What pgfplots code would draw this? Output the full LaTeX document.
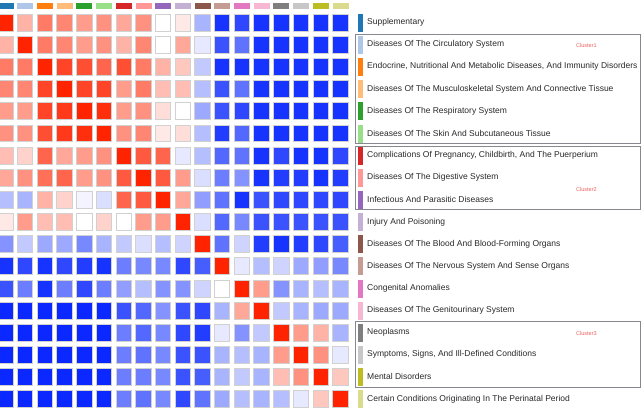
\documentclass[border=0pt]{standalone}
\usepackage{pgfplots}
\pgfplotsset{compat=1.18}
\usepackage{fontspec}
\setmainfont{Liberation Sans}

\definecolor{labeltext}{RGB}{40,40,40}
\definecolor{boxline}{RGB}{135,135,145}
\definecolor{clusterred}{RGB}{240,95,95}

% category colours, one per disease group
\definecolor{c0}{RGB}{31,119,180}
\definecolor{c1}{RGB}{174,199,232}
\definecolor{c2}{RGB}{255,127,14}
\definecolor{c3}{RGB}{255,187,120}
\definecolor{c4}{RGB}{44,160,44}
\definecolor{c5}{RGB}{152,223,138}
\definecolor{c6}{RGB}{214,39,40}
\definecolor{c7}{RGB}{255,152,150}
\definecolor{c8}{RGB}{148,103,189}
\definecolor{c9}{RGB}{197,176,213}
\definecolor{c10}{RGB}{140,86,75}
\definecolor{c11}{RGB}{196,156,148}
\definecolor{c12}{RGB}{227,119,194}
\definecolor{c13}{RGB}{247,182,210}
\definecolor{c14}{RGB}{127,127,127}
\definecolor{c15}{RGB}{199,199,199}
\definecolor{c16}{RGB}{188,189,34}
\definecolor{c17}{RGB}{219,219,141}

\tikzset{
  lbl/.style={anchor=west, inner sep=0pt, text=labeltext, font=\fontsize{8.5}{10}\selectfont},
  clu/.style={text=clusterred, font=\fontsize{5.5}{6}\selectfont},
}

\pgfplotsset{
  colormap={corr}{rgb255=(10,40,255) rgb255=(255,255,255) rgb255=(255,35,0)},
  groupclasses/.style={
    scatter, only marks, mark=square*, scatter src=explicit symbolic,
    scatter/classes={
      k0={draw=c0,fill=c0}, k1={draw=c1,fill=c1}, k2={draw=c2,fill=c2},
      k3={draw=c3,fill=c3}, k4={draw=c4,fill=c4}, k5={draw=c5,fill=c5},
      k6={draw=c6,fill=c6}, k7={draw=c7,fill=c7}, k8={draw=c8,fill=c8},
      k9={draw=c9,fill=c9}, k10={draw=c10,fill=c10}, k11={draw=c11,fill=c11},
      k12={draw=c12,fill=c12}, k13={draw=c13,fill=c13}, k14={draw=c14,fill=c14},
      k15={draw=c15,fill=c15}, k16={draw=c16,fill=c16}, k17={draw=c17,fill=c17}}},
}

\begin{document}
\begin{tikzpicture}
\begin{axis}[
  scale only axis, width=642pt, height=407pt,
  xmin=-0.269, xmax=32.32, ymin=-1.016, ymax=17.36, y dir=reverse,
  hide axis, clip marker paths=true,
]
% correlation cells: column, row, value
\addplot[scatter, only marks, mark=square*, mark size=7.7pt,
  point meta=explicit, point meta min=-1, point meta max=1,
  scatter/use mapped color={draw=black!18, fill=mapped color},
  mark options={yscale=1.1, line width=0.5pt}]
  table[row sep=\\, x=c, y=r, meta=v] {
c r v\\
0 0 1.00\\ 1 0 0.35\\ 2 0 0.60\\ 3 0 0.55\\ 4 0 0.45\\ 5 0 0.50\\ 6 0 0.40\\ 7 0 0.50\\ 8 0 0.00\\ 9 0 0.10\\ 10 0 -0.35\\ 11 0 -0.95\\ 12 0 -0.85\\ 13 0 -0.95\\ 14 0 -0.95\\ 15 0 -0.95\\ 16 0 -0.95\\ 17 0 -0.95\\
0 1 0.35\\ 1 1 1.00\\ 2 1 0.60\\ 3 1 0.55\\ 4 1 0.45\\ 5 1 0.50\\ 6 1 0.35\\ 7 1 0.55\\ 8 1 0.00\\ 9 1 0.40\\ 10 1 -0.10\\ 11 1 -0.80\\ 12 1 -0.65\\ 13 1 -0.95\\ 14 1 -0.95\\ 15 1 -0.95\\ 16 1 -0.95\\ 17 1 -0.95\\
0 2 0.60\\ 1 2 0.60\\ 2 2 1.00\\ 3 2 0.85\\ 4 2 0.80\\ 5 2 0.70\\ 6 2 0.80\\ 7 2 0.60\\ 8 2 0.35\\ 9 2 0.25\\ 10 2 -0.25\\ 11 2 -0.95\\ 12 2 -0.95\\ 13 2 -0.95\\ 14 2 -0.95\\ 15 2 -0.95\\ 16 2 -0.95\\ 17 2 -0.95\\
0 3 0.55\\ 1 3 0.55\\ 2 3 0.85\\ 3 3 1.00\\ 4 3 0.85\\ 5 3 0.85\\ 6 3 0.45\\ 7 3 0.60\\ 8 3 0.30\\ 9 3 0.30\\ 10 3 -0.30\\ 11 3 -0.80\\ 12 3 -0.65\\ 13 3 -0.95\\ 14 3 -0.95\\ 15 3 -0.95\\ 16 3 -0.95\\ 17 3 -0.95\\
0 4 0.45\\ 1 4 0.45\\ 2 4 0.85\\ 3 4 0.90\\ 4 4 1.00\\ 5 4 0.95\\ 6 4 0.45\\ 7 4 0.50\\ 8 4 0.15\\ 9 4 0.00\\ 10 4 -0.40\\ 11 4 -0.80\\ 12 4 -0.85\\ 13 4 -0.95\\ 14 4 -0.95\\ 15 4 -0.95\\ 16 4 -0.95\\ 17 4 -0.95\\
0 5 0.50\\ 1 5 0.50\\ 2 5 0.80\\ 3 5 0.90\\ 4 5 0.95\\ 5 5 1.00\\ 6 5 0.50\\ 7 5 0.55\\ 8 5 0.10\\ 9 5 0.15\\ 10 5 -0.30\\ 11 5 -0.90\\ 12 5 -0.70\\ 13 5 -0.95\\ 14 5 -0.95\\ 15 5 -0.95\\ 16 5 -0.95\\ 17 5 -0.95\\
0 6 0.30\\ 1 6 0.20\\ 2 6 0.70\\ 3 6 0.40\\ 4 6 0.45\\ 5 6 0.50\\ 6 6 1.00\\ 7 6 0.75\\ 8 6 0.70\\ 9 6 -0.10\\ 10 6 -0.30\\ 11 6 -0.70\\ 12 6 -0.65\\ 13 6 -0.95\\ 14 6 -0.85\\ 15 6 -0.95\\ 16 6 -0.95\\ 17 6 -0.85\\
0 7 0.40\\ 1 7 0.50\\ 2 7 0.65\\ 3 7 0.70\\ 4 7 0.45\\ 5 7 0.50\\ 6 7 0.75\\ 7 7 1.00\\ 8 7 0.75\\ 9 7 0.45\\ 10 7 -0.15\\ 11 7 -0.60\\ 12 7 -0.50\\ 13 7 -0.95\\ 14 7 -0.90\\ 15 7 -0.90\\ 16 7 -0.95\\ 17 7 -0.90\\
0 8 -0.30\\ 1 8 -0.35\\ 2 8 0.35\\ 3 8 0.20\\ 4 8 -0.05\\ 5 8 -0.15\\ 6 8 0.70\\ 7 8 0.75\\ 8 8 1.00\\ 9 8 0.40\\ 10 8 -0.45\\ 11 8 -0.65\\ 12 8 -0.95\\ 13 8 -0.80\\ 14 8 -0.85\\ 15 8 -0.85\\ 16 8 -0.85\\ 17 8 -0.85\\
0 9 0.10\\ 1 9 0.45\\ 2 9 0.30\\ 3 9 0.30\\ 4 9 0.00\\ 5 9 0.20\\ 6 9 0.00\\ 7 9 0.45\\ 8 9 0.45\\ 9 9 1.00\\ 10 9 -0.15\\ 11 9 -0.70\\ 12 9 -0.55\\ 13 9 -0.80\\ 14 9 -0.80\\ 15 9 -0.80\\ 16 9 -0.80\\ 17 9 -0.80\\
0 10 -0.50\\ 1 10 -0.25\\ 2 10 -0.40\\ 3 10 -0.40\\ 4 10 -0.55\\ 5 10 -0.35\\ 6 10 -0.25\\ 7 10 -0.15\\ 8 10 -0.30\\ 9 10 -0.20\\ 10 10 1.00\\ 11 10 -0.65\\ 12 10 -0.20\\ 13 10 -0.90\\ 14 10 -0.95\\ 15 10 -0.90\\ 16 10 -0.85\\ 17 10 -0.75\\
0 11 -0.95\\ 1 11 -0.85\\ 2 11 -0.95\\ 3 11 -0.85\\ 4 11 -0.90\\ 5 11 -0.95\\ 6 11 -0.60\\ 7 11 -0.55\\ 8 11 -0.55\\ 9 11 -0.85\\ 10 11 -0.75\\ 11 11 1.00\\ 12 11 -0.10\\ 13 11 -0.30\\ 14 11 -0.20\\ 15 11 -0.40\\ 16 11 -0.45\\ 17 11 -0.55\\
0 12 -0.80\\ 1 12 -0.60\\ 2 12 -0.95\\ 3 12 -0.60\\ 4 12 -0.85\\ 5 12 -0.60\\ 6 12 -0.45\\ 7 12 -0.30\\ 8 12 -0.50\\ 9 12 -0.50\\ 10 12 -0.20\\ 11 12 0.00\\ 12 12 1.00\\ 13 12 0.45\\ 14 12 -0.50\\ 15 12 -0.35\\ 16 12 -0.30\\ 17 12 -0.35\\
0 13 -1.00\\ 1 13 -1.00\\ 2 13 -1.00\\ 3 13 -1.00\\ 4 13 -1.00\\ 5 13 -1.00\\ 6 13 -0.80\\ 7 13 -0.70\\ 8 13 -0.50\\ 9 13 -0.80\\ 10 13 -0.85\\ 11 13 -0.35\\ 12 13 0.40\\ 13 13 1.00\\ 14 13 -0.25\\ 15 13 -0.35\\ 16 13 -0.40\\ 17 13 -0.40\\
0 14 -1.00\\ 1 14 -1.00\\ 2 14 -1.00\\ 3 14 -1.00\\ 4 14 -1.00\\ 5 14 -1.00\\ 6 14 -0.60\\ 7 14 -0.70\\ 8 14 -0.55\\ 9 14 -0.85\\ 10 14 -0.90\\ 11 14 -0.10\\ 12 14 -0.50\\ 13 14 -0.25\\ 14 14 1.00\\ 15 14 0.45\\ 16 14 0.35\\ 17 14 -0.35\\
0 15 -1.00\\ 1 15 -1.00\\ 2 15 -1.00\\ 3 15 -1.00\\ 4 15 -1.00\\ 5 15 -1.00\\ 6 15 -0.60\\ 7 15 -0.65\\ 8 15 -0.55\\ 9 15 -0.80\\ 10 15 -0.80\\ 11 15 -0.35\\ 12 15 -0.30\\ 13 15 -0.35\\ 14 15 0.45\\ 15 15 1.00\\ 16 15 0.50\\ 17 15 -0.10\\
0 16 -1.00\\ 1 16 -1.00\\ 2 16 -1.00\\ 3 16 -1.00\\ 4 16 -1.00\\ 5 16 -1.00\\ 6 16 -0.60\\ 7 16 -0.60\\ 8 16 -0.55\\ 9 16 -0.80\\ 10 16 -0.75\\ 11 16 -0.35\\ 12 16 -0.25\\ 13 16 -0.35\\ 14 16 0.30\\ 15 16 0.50\\ 16 16 1.00\\ 17 16 0.25\\
0 17 -1.00\\ 1 17 -1.00\\ 2 17 -1.00\\ 3 17 -1.00\\ 4 17 -1.00\\ 5 17 -1.00\\ 6 17 -0.60\\ 7 17 -0.65\\ 8 17 -0.55\\ 9 17 -0.85\\ 10 17 -0.65\\ 11 17 -0.40\\ 12 17 -0.30\\ 13 17 -0.35\\ 14 17 -0.30\\ 15 17 -0.10\\ 16 17 0.25\\ 17 17 1.00\\
};

% group colour strips above the columns
\addplot[groupclasses, mark size=7.5pt, every mark/.append style={yscale=0.33}]
  table[row sep=\\, x=c, y=r, meta=k] {
c r k\\
0 -0.77 k0\\ 1 -0.77 k1\\ 2 -0.77 k2\\ 3 -0.77 k3\\ 4 -0.77 k4\\ 5 -0.77 k5\\ 6 -0.77 k6\\ 7 -0.77 k7\\ 8 -0.77 k8\\
9 -0.77 k9\\ 10 -0.77 k10\\ 11 -0.77 k11\\ 12 -0.77 k12\\ 13 -0.77 k13\\ 14 -0.77 k14\\ 15 -0.77 k15\\ 16 -0.77 k16\\ 17 -0.77 k17\\
};

% group colour bars beside the row labels
\addplot[groupclasses, mark size=7.7pt, every mark/.append style={xscale=0.28, yscale=1.1}]
  table[row sep=\\, x=c, y=r, meta=k] {
c r k\\
18 0 k0\\ 18 1 k1\\ 18 2 k2\\ 18 3 k3\\ 18 4 k4\\ 18 5 k5\\ 18 6 k6\\ 18 7 k7\\ 18 8 k8\\
18 9 k9\\ 18 10 k10\\ 18 11 k11\\ 18 12 k12\\ 18 13 k13\\ 18 14 k14\\ 18 15 k15\\ 18 16 k16\\ 18 17 k17\\
};

% cluster frames
\draw[boxline, line width=1pt] (axis cs:17.78,0.52) rectangle (axis cs:32.25,5.47);
\draw[boxline, line width=1pt] (axis cs:17.78,5.60) rectangle (axis cs:32.25,8.45);
\draw[boxline, line width=1pt] (axis cs:17.78,13.52) rectangle (axis cs:32.25,16.48);

\node[clu] at (axis cs:29.5,1.02) {Cluster1};
\node[clu] at (axis cs:29.5,7.52) {Cluster2};
\node[clu] at (axis cs:29.5,14.06) {Cluster3};

% row labels
\node[lbl] at (axis cs:18.36,0) {Supplementary};
\node[lbl] at (axis cs:18.36,1) {Diseases Of The Circulatory System};
\node[lbl] at (axis cs:18.36,2) {Endocrine, Nutritional And Metabolic Diseases, And Immunity Disorders};
\node[lbl] at (axis cs:18.36,3) {Diseases Of The Musculoskeletal System And Connective Tissue};
\node[lbl] at (axis cs:18.36,4) {Diseases Of The Respiratory System};
\node[lbl] at (axis cs:18.36,5) {Diseases Of The Skin And Subcutaneous Tissue};
\node[lbl] at (axis cs:18.36,6) {Complications Of Pregnancy, Childbirth, And The Puerperium};
\node[lbl] at (axis cs:18.36,7) {Diseases Of The Digestive System};
\node[lbl] at (axis cs:18.36,8) {Infectious And Parasitic Diseases};
\node[lbl] at (axis cs:18.36,9) {Injury And Poisoning};
\node[lbl] at (axis cs:18.36,10) {Diseases Of The Blood And Blood-Forming Organs};
\node[lbl] at (axis cs:18.36,11) {Diseases Of The Nervous System And Sense Organs};
\node[lbl] at (axis cs:18.36,12) {Congenital Anomalies};
\node[lbl] at (axis cs:18.36,13) {Diseases Of The Genitourinary System};
\node[lbl] at (axis cs:18.36,14) {Neoplasms};
\node[lbl] at (axis cs:18.36,15) {Symptoms, Signs, And Ill-Defined Conditions};
\node[lbl] at (axis cs:18.36,16) {Mental Disorders};
\node[lbl] at (axis cs:18.36,17) {Certain Conditions Originating In The Perinatal Period};
\end{axis}
\pgfresetboundingbox
\path[use as bounding box] (current axis.south west) rectangle (current axis.north east);
\end{tikzpicture}
\end{document}
